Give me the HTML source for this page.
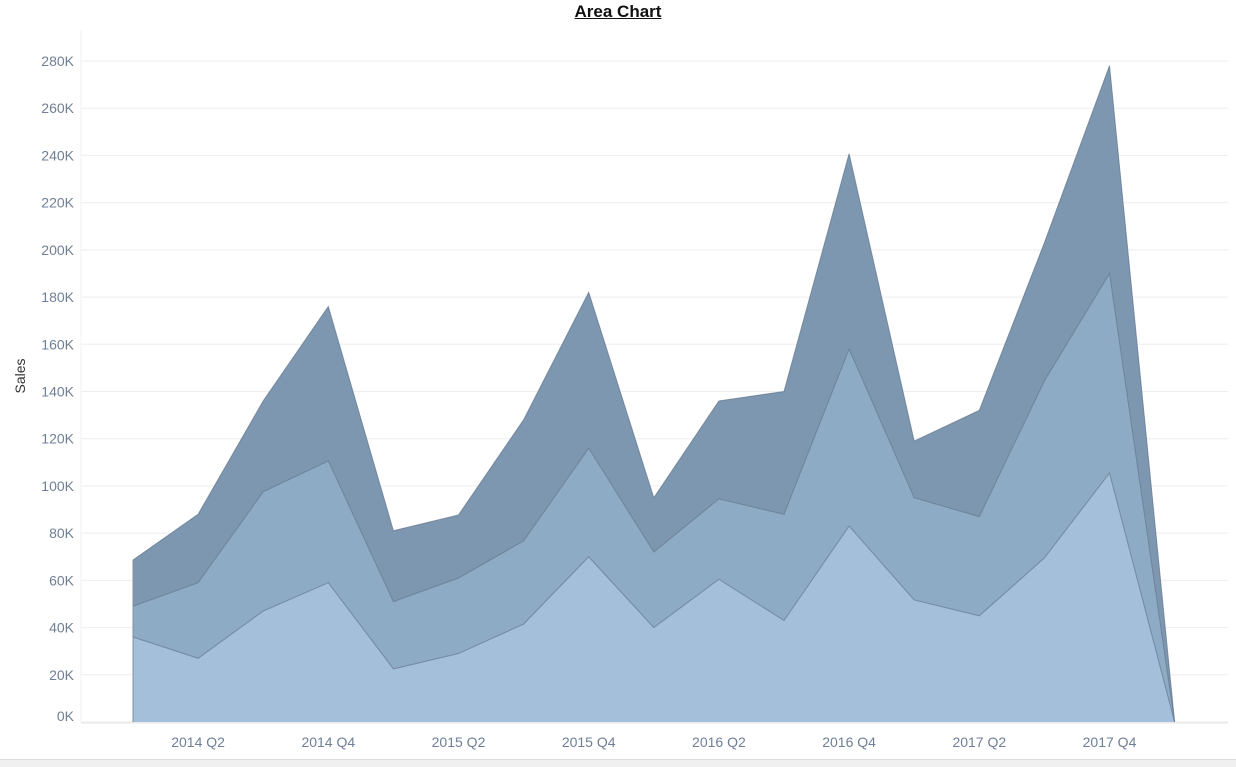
<!DOCTYPE html>
<html><head><meta charset="utf-8"><style>
body{margin:0;width:1236px;height:766px;background:#fff;overflow:hidden;font-family:"Liberation Sans",sans-serif}
#title{position:absolute;left:0;width:1236px;top:2px;text-align:center;font-weight:bold;font-size:17px;text-decoration:underline;color:#111}
#scroll{position:absolute;left:0;top:759px;width:1236px;height:7px;background:#f0f0f0;border-top:1px solid #ddd}
</style></head><body>
<div id="title">Area Chart</div>
<svg id="chart" width="1236" height="758" style="position:absolute;left:0;top:0"></svg>
<div id="scroll"></div>
<script>
const categories=["2014 Q1","2014 Q2","2014 Q3","2014 Q4","2015 Q1","2015 Q2","2015 Q3","2015 Q4","2016 Q1","2016 Q2","2016 Q3","2016 Q4","2017 Q1","2017 Q2","2017 Q3","2017 Q4","2018 Q1"];
const seriesA=[36,27,47,59,22.5,29,41.5,70,40,60.5,43,83,51.7,45,69.5,105.5,0];
const seriesB=[13,32,50.5,51.6,28.5,32,35.2,46,32,34,45,75,43.3,42,75,84.5,0];
const seriesC=[19.6,29,38.5,65.4,30,26.7,51.3,66,23,41.5,52,82.7,24,45,58.5,88,0];
const yTicks=[0,20,40,60,80,100,120,140,160,180,200,220,240,260,280];
const xTickLabels=["2014 Q2","2014 Q4","2015 Q2","2015 Q4","2016 Q2","2016 Q4","2017 Q2","2017 Q4"];
const NS="http://www.w3.org/2000/svg";
const svg=document.getElementById('chart');
const x0=133,dx=65.1,yb=722,yt=61;
const X=i=>x0+i*dx;
const Y=v=>yb-(v/280)*(yb-yt);
function mk(t,a){const e=document.createElementNS(NS,t);for(const k in a)e.setAttribute(k,a[k]);svg.appendChild(e);return e;}
yTicks.forEach(v=>{
 const g=mk('line',{x1:81,x2:1228,y1:Y(v),y2:Y(v),stroke:'#eeeeee','stroke-width':1});
 
 
 const t=mk('text',{x:74,y:(v===0?Math.min(Y(v),716):Y(v))+5,'text-anchor':'end','font-size':14,fill:'#6e7f96'});
 t.textContent=v+'K';
 
 
});
const ax=mk('line',{x1:81,x2:81,y1:30,y2:yb,stroke:'#f0f0f0'});


const bx=mk('line',{x1:81,x2:1228,y1:yb+1,y2:yb+1,stroke:'#e6e6e6'});


const cumA=seriesA, cumB=seriesA.map((v,i)=>v+seriesB[i]), cumC=cumB.map((v,i)=>v+seriesC[i]);
function area(top,bottom,fill,name){
 let d='M'+top.map((v,i)=>X(i)+','+Y(v)).join('L');
 for(let i=bottom.length-1;i>=0;i--)d+='L'+X(i)+','+Y(bottom[i]);
 const p=mk('path',{d:d+'Z',fill:fill,stroke:'none'});
 
 
 const l=mk('path',{d:'M'+top.map((v,i)=>X(i)+','+Y(v)).join('L'),fill:'none',stroke:'#5f738a','stroke-width':1,'stroke-opacity':0.7});
 
 
}
const zeros=categories.map(()=>0);
area(cumC,cumB,'#7e97b0','area-series-c');
area(cumB,cumA,'#8eabc6','area-series-b');
area(cumA,zeros,'#a3bfd9','area-series-a');
const lf=mk('line',{x1:X(0),x2:X(0),y1:Y(cumC[0]),y2:yb,stroke:'#7d90a6'});


xTickLabels.forEach(lab=>{
 const i=categories.indexOf(lab);
 const t=mk('text',{x:X(i),y:747,'text-anchor':'middle','font-size':14,fill:'#6e7f96'});
 t.textContent=lab;
 
 
});
const yt2=mk('text',{x:0,y:0,'font-size':14,fill:'#333','text-anchor':'middle',transform:'translate(25,376) rotate(-90)'});
yt2.textContent='Sales';


</script>
</body></html>
